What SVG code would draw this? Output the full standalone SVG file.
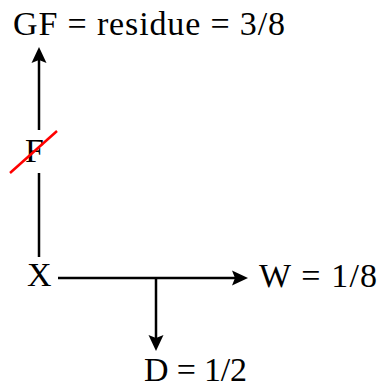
<svg xmlns="http://www.w3.org/2000/svg" width="381" height="390" viewBox="0 0 381 390">
<style>
.t{font-family:"Liberation Serif","Times New Roman",serif;font-size:34px;fill:#000}
.c{stroke:#000;stroke-width:2.5;fill:none}
</style>
<defs>
<marker id="ah" viewBox="-8 -8 16 16" markerWidth="16" markerHeight="16" refX="0" refY="0" orient="auto" markerUnits="userSpaceOnUse">
<path d="M8,0 L-8,-7.5 L-5,0 L-8,7.5 Z" fill="#000"/>
</marker>
</defs>
<rect width="381" height="390" fill="#fff"/>
<g id="connectors">
<line class="c" x1="39" y1="130" x2="39" y2="55" marker-end="url(#ah)"/>
<line class="c" x1="39" y1="257" x2="39" y2="173"/>
<line class="c" x1="58" y1="278" x2="240" y2="278" marker-end="url(#ah)"/>
<line class="c" x1="156" y1="278" x2="156" y2="343" marker-end="url(#ah)"/>
</g>
<g id="node-GF"><text class="t" x="13" y="35" textLength="272" lengthAdjust="spacing">GF = residue = 3/8</text></g>
<g id="node-F"><text class="t" x="25" y="162">F</text>
<line x1="10" y1="173" x2="57" y2="131" stroke="#f00" stroke-width="2.5"/></g>
<g id="node-X"><text class="t" x="27" y="286">X</text></g>
<g id="node-W"><text class="t" x="259" y="287" textLength="118" lengthAdjust="spacing">W = 1/8</text></g>
<g id="node-D"><text class="t" x="144" y="381" textLength="103" lengthAdjust="spacing">D = 1/2</text></g>
</svg>
